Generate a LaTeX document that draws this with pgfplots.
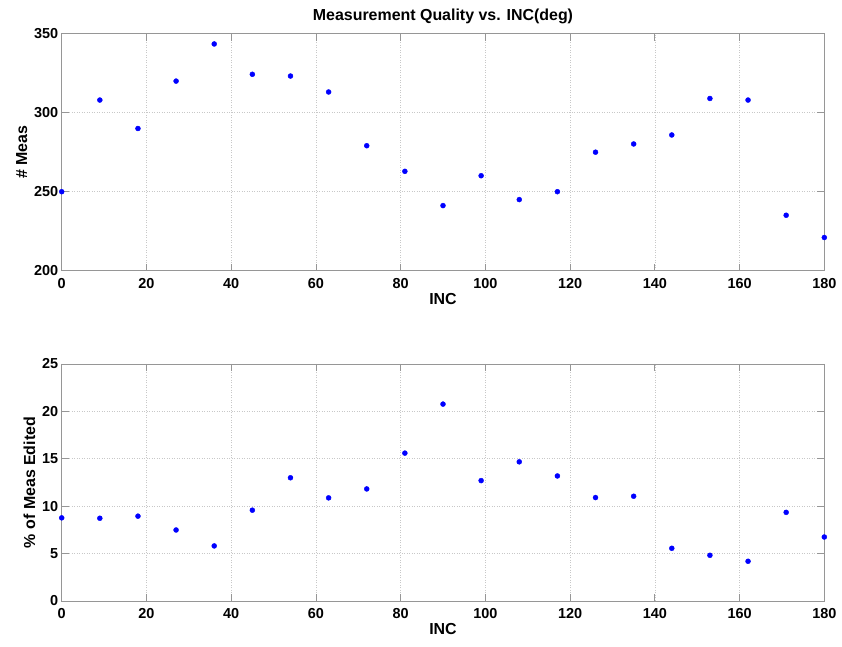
\documentclass[border=0pt]{standalone}
\usepackage{fontspec}
\setmainfont{Liberation Sans}
\usepackage{pgfplots}
\pgfplotsset{compat=1.18}
\definecolor{axgray}{RGB}{150,150,150}
\definecolor{gridgray}{RGB}{200,200,200}
\pgfplotsset{
  mystyle/.style={
    scale only axis, width=762.6bp, height=237bp,
    xmin=0, xmax=180, xtick={0,20,...,180},
    grid=major,
    major grid style={gridgray, line width=0.6bp, dash pattern=on 1bp off 1.5bp},
    axis line style={axgray, line width=0.8bp},
    tick style={axgray, line width=0.8bp},
    tick align=inside, tick pos=both,
    major tick length=7bp,
    ticklabel style={font=\fontsize{14.5}{16}\selectfont\bfseries},
    xticklabel style={yshift=-4bp},
    /pgf/number format/assume math mode=true,
    label style={font=\fontsize{16}{18}\selectfont\bfseries},
    xlabel={INC},
    xlabel style={yshift=2bp},
    title style={font=\fontsize{16}{18}\selectfont\bfseries},
  },
  mymark/.style={only marks, mark=*, mark size=2.5bp, blue, mark options={draw=blue, fill=blue}},
}
\begin{document}
\begin{tikzpicture}
\useasboundingbox (0bp,0bp) rectangle (842bp,647bp);
\begin{axis}[mystyle, at={(61.7bp,376.3bp)}, anchor=south west,
  ymin=200, ymax=350, ytick={200,250,300,350},
  ylabel={\# Meas},
  title={Measurement Quality vs. INC(deg)}]
\addplot[mymark] coordinates {
(0,250) (9,308) (18,290) (27,320) (36,343.5) (45,324.3) (54,323.2) (63,313.1)
(72,279.1) (81,262.9) (90,241.2) (99,260.1) (108,245) (117,250) (126,275)
(135,280.2) (144,285.9) (153,309) (162,308) (171,235.1) (180,221)
};
\end{axis}
\begin{axis}[mystyle, at={(61.7bp,46bp)}, anchor=south west,
  ymin=0, ymax=25, ytick={0,5,...,25},
  ylabel={\% of Meas Edited}]
\addplot[mymark] coordinates {
(0,8.77) (9,8.73) (18,8.95) (27,7.49) (36,5.81) (45,9.58) (54,13.0) (63,10.88)
(72,11.82) (81,15.6) (90,20.77) (99,12.7) (108,14.68) (117,13.19) (126,10.91)
(135,11.05) (144,5.56) (153,4.82) (162,4.19) (171,9.35) (180,6.75)
};
\end{axis}
\end{tikzpicture}
\end{document}
